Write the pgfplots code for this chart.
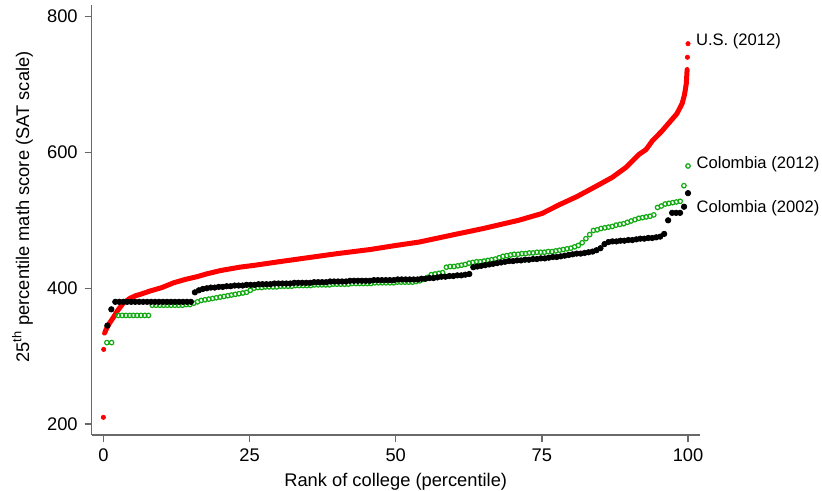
\documentclass[border=0pt]{standalone}
\usepackage{fontspec}
\setmainfont{Liberation Sans}
\usepackage{pgfplots}
\pgfplotsset{compat=1.18}
\definecolor{sgreen}{RGB}{20,170,20}
\definecolor{axgray}{RGB}{105,105,105}
\begin{document}
\begin{tikzpicture}
\useasboundingbox (-45.85pt,-28pt) rectangle (365.15pt,217.5pt);
\clip (-45.85pt,-28pt) rectangle (365.15pt,217.5pt);
\begin{axis}[
  scale only axis, width=304pt, height=215pt,
  xmin=-2, xmax=102, ymin=184, ymax=817,
  axis lines*=left,
  axis line style={axgray, line width=0.75pt},
  xtick={0,25,50,75,100}, ytick={200,400,600,800},
  tick align=outside, major tick length=3.5pt,
  every tick/.style={axgray, line width=0.75pt},
  /pgf/number format/assume math mode=true,
  tick label style={font=\fontsize{9.15}{11}\selectfont, black},
  xlabel={Rank of college (percentile)},
  xlabel style={font=\fontsize{9.15}{11}\selectfont, at={(axis description cs:0.5,-0.1186)}, anchor=base},
  ylabel={25\textsuperscript{th} percentile math score (SAT scale)},
  ylabel style={font=\fontsize{9.15}{11}\selectfont, at={(axis description cs:-0.1030,0.53)}, anchor=base, rotate=0},
  clip=false,
]
% Colombia (2012)
\addplot[only marks, mark=o, mark size=1.12pt, mark options={line width=0.62pt, sgreen}] coordinates {
(0.60,320)(1.40,320)
(2.55,360)(3.20,360)(3.84,360)(4.49,360)(5.13,360)(5.78,360)(6.42,360)(7.07,360)(7.71,360)
(8.36,375)(9.00,375)(9.65,375)(10.29,375)(10.94,375)(11.58,375)(12.23,375)(12.87,375)(13.52,375)(14.16,376)(14.81,376)
(15.45,378)(16.10,380)(16.74,382)(17.39,383)(18.03,384)(18.68,385)(19.32,386)(19.97,387)(20.61,388)(21.26,389)
(21.90,390)(22.55,391)(23.19,392)(23.84,393)(24.48,394)(25.13,397)(25.77,400)(26.42,401)(27.06,401)(27.71,402)
(28.35,402)(29.00,402)(29.64,402)(30.29,403)(30.93,403)(31.58,403)(32.22,403)(32.87,404)(33.51,404)(34.16,404)
(34.80,404)(35.45,404)(36.09,405)(36.74,405)(37.38,405)(38.03,405)(38.67,405)(39.32,406)(39.96,406)(40.61,406)
(41.25,406)(41.90,406)(42.54,407)(43.19,407)(43.83,407)(44.48,407)(45.12,407)(45.77,407)(46.41,408)(47.06,408)
(47.70,408)(48.35,408)(48.99,408)(49.64,408)(50.28,409)(50.93,409)(51.57,409)(52.22,409)(52.86,409)(53.51,410)
(54.15,411)(54.80,413)(55.44,416)(56.09,420)(56.73,421)(57.38,422)(58.02,423)(58.67,431)(59.31,432)(59.96,432)
(60.60,433)(61.25,434)(61.89,435)(62.54,437)(63.18,438)(63.83,439)(64.47,439)(65.12,440)(65.76,441)(66.41,442)
(67.05,443)(67.70,445)(68.34,447)(68.99,448)(69.63,449)(70.28,450)(70.92,450)(71.57,451)(72.21,451)(72.86,452)
(73.50,452)(74.15,453)(74.79,453)(75.44,453)(76.08,454)(76.73,454)(77.37,455)(78.02,456)(78.66,457)(79.31,458)
(79.95,459)(80.60,461)(81.24,463)(81.89,467)(82.53,473)(83.18,479)(83.82,485)(84.47,486)(85.11,488)(85.76,489)
(86.40,490)(87.05,491)(87.69,493)(88.34,494)(88.98,495)(89.63,497)(90.27,499)(90.92,501)(91.56,503)(92.21,504)
(92.85,505)(93.50,506)(94.14,508)(94.79,519)(95.43,521)(96.08,524)(96.72,525)(97.37,526)(98.01,527)(98.66,528)
(99.30,551)(100.00,580)
};
% Colombia (2002)
\addplot[only marks, mark=*, mark size=1.35pt, mark options={black, fill=black}] coordinates {
(0.68,345)(1.36,369)
(2.04,380)(2.72,380)(3.40,380)(4.08,380)(4.76,380)(5.44,380)(6.12,380)(6.80,380)(7.48,380)(8.16,380)
(8.84,380)(9.52,380)(10.20,380)(10.88,380)(11.56,380)(12.24,380)(12.93,380)(13.61,380)(14.29,380)(14.97,380)
(15.65,394)(16.33,397)(17.01,399)(17.69,400)(18.37,401)(19.05,401)(19.73,402)(20.41,402)(21.09,403)(21.77,403)
(22.45,404)(23.13,404)(23.81,404)(24.49,405)(25.17,405)(25.85,405)(26.53,406)(27.21,406)(27.89,406)(28.57,406)
(29.25,407)(29.93,407)(30.61,407)(31.29,407)(31.97,407)(32.65,408)(33.33,408)(34.01,408)(34.69,408)(35.37,408)
(36.05,409)(36.73,409)(37.41,409)(38.10,409)(38.78,410)(39.46,410)(40.14,410)(40.82,410)(41.50,410)(42.18,411)
(42.86,411)(43.54,411)(44.22,411)(44.90,411)(45.58,411)(46.26,412)(46.94,412)(47.62,412)(48.30,412)(48.98,412)
(49.66,412)(50.34,413)(51.02,413)(51.70,413)(52.38,413)(53.06,413)(53.74,413)(54.42,414)(55.10,414)(55.78,415)
(56.46,415)(57.14,416)(57.82,417)(58.50,417)(59.18,418)(59.86,418)(60.54,419)(61.22,419)(61.90,420)(62.59,421)
(63.27,431)(63.95,432)(64.63,433)(65.31,434)(65.99,435)(66.67,436)(67.35,437)(68.03,438)(68.71,439)(69.39,440)
(70.07,440)(70.75,441)(71.43,441)(72.11,442)(72.79,442)(73.47,443)(74.15,443)(74.83,444)(75.51,444)(76.19,445)
(76.87,446)(77.55,446)(78.23,447)(78.91,448)(79.59,449)(80.27,450)(80.95,451)(81.63,451)(82.31,452)(82.99,453)
(83.67,454)(84.35,456)(85.03,459)(85.71,465)(86.39,468)(87.07,469)(87.76,469)(88.44,470)(89.12,470)(89.80,471)
(90.48,471)(91.16,472)(91.84,473)(92.52,473)(93.20,474)(93.88,474)(94.56,475)(95.24,476)(95.92,480)(96.60,500)
(97.28,511)(97.96,511)(98.64,511)(99.32,520)(100.00,540)
};
% U.S. (2012)
\addplot[red, line width=2.5pt, line join=round, line cap=round, no marks] coordinates {
(0.2,334)(0.5,340)(1,348)(1.7,357)(2.5,368)(3.4,378)(4.5,385)(5.5,389)(6.3,391)(8,396)(10,401)(12,408)
(14,413)(16,417)(17.6,421)(20,426)(23.3,431)(26,434)(30,439)(35,445)(40,451)(45.6,457)(50,463)(54,468)
(60,479)(65,488)(71,500)(75,510)(78,523)(81,535)(83.6,547)(87,563)(89.4,578)(91.6,597)(92.8,604)(93.9,617)
(95.6,632)(97.1,647)(98.1,657)(99.0,672)(99.4,685)(99.7,701)(99.85,722)
};
\addplot[only marks, mark=*, mark size=1.05pt, mark options={red, fill=red}] coordinates {
(0,210)(0.05,310)(99.9,740)(100,760)
};
\node[anchor=west, inner sep=0pt, font=\fontsize{8.3}{10}\selectfont] at (axis cs:101.3,763) {U.S. (2012)};
\node[anchor=west, inner sep=0pt, font=\fontsize{8.3}{10}\selectfont] at (axis cs:101.4,583) {Colombia (2012)};
\node[anchor=west, inner sep=0pt, font=\fontsize{8.3}{10}\selectfont] at (axis cs:101.4,518) {Colombia (2002)};
\end{axis}
\end{tikzpicture}
\end{document}
